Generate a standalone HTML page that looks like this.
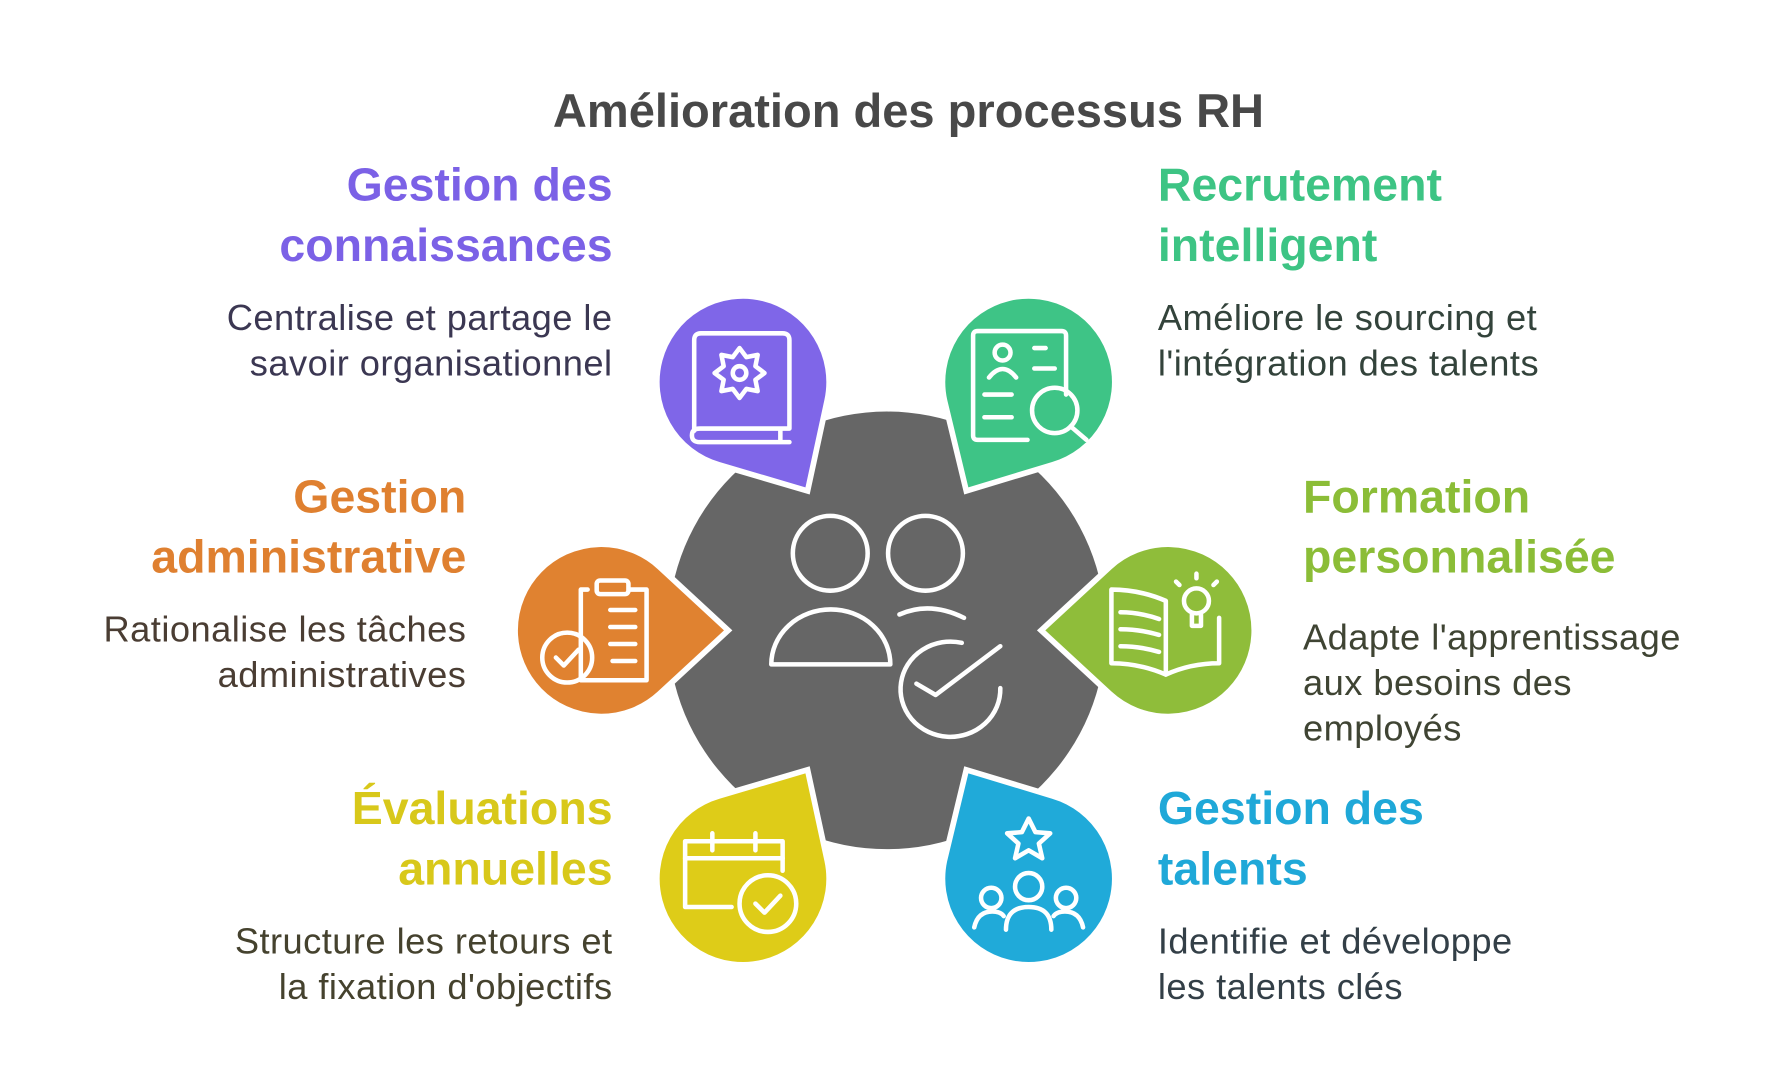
<!DOCTYPE html>
<html><head><meta charset="utf-8"><style>
html,body{margin:0;padding:0;background:#fff;}
svg{display:block;}
.h{font-family:"Liberation Sans",sans-serif;font-weight:bold;font-size:41px;}
.b{font-family:"Liberation Sans",sans-serif;font-size:32px;letter-spacing:0.4px;}
.ic{fill:none;stroke:#fff;stroke-width:4;stroke-linecap:round;stroke-linejoin:round;}
</style></head><body>
<svg width="1775" height="1085" viewBox="0 0 1565 957" xmlns="http://www.w3.org/2000/svg">
<rect width="1565" height="957" fill="#fff"/>
<text x="801" y="112" text-anchor="middle" class="h" fill="#484848" style="font-size:41.5px">Amélioration des processus RH</text>

<circle cx="782" cy="556" r="193" fill="#666666"/>

<g stroke="#fff" stroke-width="5">
<path d="M729.3,353.1 L712,433 L633.6,409.9 A76,76 0 1,1 729.3,353.1 Z" fill="#7F66E8"/>
<path d="M832.7,353.1 L852,433 L928.4,409.9 A76,76 0 1,0 832.7,353.1 Z" fill="#3EC486"/>
<path d="M581.5,500.1 L642,556 L581.5,611.9 A76,76 0 1,1 581.5,500.1 Z" fill="#E08230"/>
<path d="M978.5,500.1 L918,556 L978.5,611.9 A76,76 0 1,0 978.5,500.1 Z" fill="#8FBD3A"/>
<path d="M729.3,758.9 L712,679 L633.6,702.1 A76,76 0 1,0 729.3,758.9 Z" fill="#DECC18"/>
<path d="M832.7,758.9 L852,679 L928.4,702.1 A76,76 0 1,1 832.7,758.9 Z" fill="#20AAD9"/>
</g>

<g class="ic" stroke-width="3.5">
<circle cx="732" cy="488" r="33"/>
<circle cx="816" cy="488" r="33"/>
<path d="M680,586 A52,48 0 0 1 785,586 Z"/>
<path d="M793,542 Q820,530 850,545"/>
<path d="M848,567 A44,42 0 1 0 882,607"/>
<path d="M808,603 L825,613 L882,570"/>
</g>

<g class="ic" stroke-width="3.5">
<path d="M612,380 V300 Q612,294 618,294 H690 Q696,294 696,300 V378 H617 Q610,378 610,384 Q610,390 617,390 H696 M688,378 V390"/>
<circle cx="652" cy="329" r="6"/>
<path d="M652,307 l6,8 l10,-2 l-2,10 l8,6 l-8,6 l2,10 l-10,-2 l-6,8 l-6,-8 l-10,2 l2,-10 l-8,-6 l8,-6 l-2,-10 l10,2 z"/>
</g>
<g class="ic" stroke-width="3.5">
<path d="M906,388 H862 Q858,388 858,384 V296 Q858,292 862,292 H936 Q940,292 940,296 V348"/>
<circle cx="884" cy="311" r="7"/><path d="M872,333 Q884,318 896,333"/>
<path d="M912,307 H922 M912,325 H930 M868,348 H892 M868,368 H892"/>
<circle cx="930" cy="362" r="20"/><path d="M944,376 L958,388"/>
</g>
<g class="ic" stroke-width="3.5">
<path d="M518,520 H512 V600 H570 V520 H555"/>
<rect x="526" y="512" width="28" height="12" rx="3"/>
<path d="M538,538 H560 M538,553 H560 M538,568 H560 M540,583 H560"/>
<circle cx="500" cy="580" r="22"/><path d="M490,580 L497,587 L510,573"/>
</g>
<g class="ic" stroke-width="3.5">
<path d="M1028,595 Q1005,585 980,585 V520 Q1005,520 1028,530 Z"/>
<path d="M1028,595 Q1050,585 1075,585 V545"/>
<path d="M988,540 Q1005,540 1022,546 M988,555 Q1005,555 1022,560 M988,570 Q1005,570 1022,575"/>
<circle cx="1055" cy="530" r="11"/><path d="M1051,542 V552 H1059 V542 M1055,510 V506 M1040,516 L1037,513 M1070,516 L1073,513"/>
</g>
<g class="ic" stroke-width="3.5">
<path d="M645,800 H604 V742 H690 V768"/>
<path d="M604,757 H690 M628,735 V750 M666,735 V750"/>
<circle cx="677" cy="797" r="25"/><path d="M666,797 L674,805 L688,790"/>
</g>
<g class="ic" stroke-width="3.5">
<path d="M907,722 l6,12 l13,1 l-10,9 l3,13 l-12,-7 l-12,7 l3,-13 l-10,-9 l13,-1 z"/>
<circle cx="907" cy="782" r="12"/><path d="M887,820 Q887,800 907,800 Q927,800 927,820"/>
<circle cx="874" cy="792" r="9"/><path d="M859,818 Q862,804 875,804 Q882,804 885,808"/>
<circle cx="940" cy="792" r="9"/><path d="M955,818 Q952,804 939,804 Q932,804 929,808"/>
</g>

<g text-anchor="end">
<text x="540" y="177" class="h" fill="#7B61E6">Gestion des</text>
<text x="540" y="230" class="h" fill="#7B61E6">connaissances</text>
<text x="540" y="291" class="b" fill="#3b3752">Centralise et partage le</text>
<text x="540" y="331" class="b" fill="#3b3752">savoir organisationnel</text>
<text x="411" y="452" class="h" fill="#DF8030">Gestion</text>
<text x="411" y="505" class="h" fill="#DF8030">administrative</text>
<text x="411" y="566" class="b" fill="#4a3d33">Rationalise les tâches</text>
<text x="411" y="606" class="b" fill="#4a3d33">administratives</text>
<text x="540" y="727" class="h" fill="#D8C81A">Évaluations</text>
<text x="540" y="780" class="h" fill="#D8C81A">annuelles</text>
<text x="540" y="841" class="b" fill="#45422e">Structure les retours et</text>
<text x="540" y="881" class="b" fill="#45422e">la fixation d'objectifs</text>
</g>
<text x="1021" y="177" class="h" fill="#3DC484">Recrutement</text>
<text x="1021" y="230" class="h" fill="#3DC484">intelligent</text>
<text x="1021" y="291" class="b" fill="#33433b">Améliore le sourcing et</text>
<text x="1021" y="331" class="b" fill="#33433b">l'intégration des talents</text>
<text x="1149" y="452" class="h" fill="#8BBD37">Formation</text>
<text x="1149" y="505" class="h" fill="#8BBD37">personnalisée</text>
<text x="1149" y="573" class="b" fill="#3f4433">Adapte l'apprentissage</text>
<text x="1149" y="613" class="b" fill="#3f4433">aux besoins des</text>
<text x="1149" y="653" class="b" fill="#3f4433">employés</text>
<text x="1021" y="727" class="h" fill="#1FA8D8">Gestion des</text>
<text x="1021" y="780" class="h" fill="#1FA8D8">talents</text>
<text x="1021" y="841" class="b" fill="#333f47">Identifie et développe</text>
<text x="1021" y="881" class="b" fill="#333f47">les talents clés</text>
</svg>
</body></html>
